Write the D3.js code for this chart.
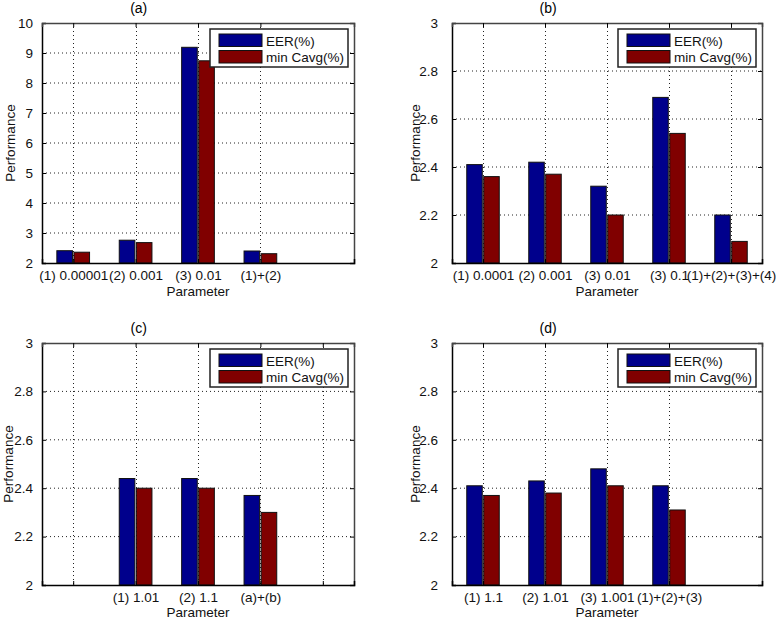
<!DOCTYPE html>
<html><head><meta charset="utf-8">
<script src="https://cdn.jsdelivr.net/npm/d3@7"></script>
<style>body{margin:0;background:#fff}svg{display:block;font-family:"Liberation Sans",Arial,sans-serif}</style>
</head><body><svg id="c" width="776" height="618"></svg>
<script>
// ---- data ----
const seriesNames = ["EER(%)", "min Cavg(%)"];
const seriesColors = ["#00008c", "#800000"];

const aTitle = "(a)";
const aTickLabels = ["(1) 0.00001", "(2) 0.001", "(3) 0.01", "(1)+(2)"];
const aTickPos = [1, 2, 3, 4];
const aBarPos = [1, 2, 3, 4];
const aEER = [2.41, 2.76, 9.19, 2.40];
const aCavg = [2.36, 2.68, 8.74, 2.31];
const aYTicks = [2, 3, 4, 5, 6, 7, 8, 9, 10];

const bTitle = "(b)";
const bTickLabels = ["(1) 0.0001", "(2) 0.001", "(3) 0.01", "(3) 0.1", "(1)+(2)+(3)+(4)"];
const bTickPos = [1, 2, 3, 4, 5];
const bBarPos = [1, 2, 3, 4, 5];
const bEER = [2.41, 2.42, 2.32, 2.69, 2.20];
const bCavg = [2.36, 2.37, 2.20, 2.54, 2.09];
const smallYTicks = [2, 2.2, 2.4, 2.6, 2.8, 3];

const cTitle = "(c)";
const cTickLabels = ["", "(1) 1.01", "(2) 1.1", "(a)+(b)", ""];
const cTickPos = [1, 2, 3, 4, 5];
const cBarPos = [2, 3, 4];
const cEER = [2.44, 2.44, 2.37];
const cCavg = [2.40, 2.40, 2.30];

const dTitle = "(d)";
const dTickLabels = ["(1) 1.1", "(2) 1.01", "(3) 1.001", "(1)+(2)+(3)"];
const dTickPos = [1, 2, 3, 4];
const dBarPos = [1, 2, 3, 4];
const dEER = [2.41, 2.43, 2.48, 2.41];
const dCavg = [2.37, 2.38, 2.41, 2.31];

const xLabel = "Parameter";
const yLabel = "Performance";

// ---- drawing ----
const svg = d3.select("#c");
const FS = 13.5;

function panel(cfg) {
  const {left, right, top, bottom, yDomain, yTicks, yFmt, tickPos, tickLabels, barPos, eer, cavg, title, yTickPad, yLabelOff, xLabOff} = cfg;
  const x = d3.scaleLinear().domain([0.5, 5.5]).range([left, right]);
  const y = d3.scaleLinear().domain(yDomain).range([bottom, top]);
  const g = svg.append("g");

  // grid
  g.append("g").selectAll("line").data(yTicks.slice(1, -1)).join("line")
    .attr("x1", left).attr("x2", right).attr("y1", d => y(d)).attr("y2", d => y(d))
    .attr("stroke", "#222").attr("stroke-width", 1).attr("stroke-dasharray", "1,3");
  g.append("g").selectAll("line").data(tickPos).join("line")
    .attr("x1", d => Math.round(x(d)) + 0.5).attr("x2", d => Math.round(x(d)) + 0.5).attr("y1", top).attr("y2", bottom)
    .attr("stroke", "#222").attr("stroke-width", 1).attr("stroke-dasharray", "1,3");

  // bars
  const bw = 0.25, off = 0.137;
  const rows = [];
  barPos.forEach((p, i) => {
    rows.push({x: p - off, v: eer[i], s: 0});
    rows.push({x: p + off, v: cavg[i], s: 1});
  });
  g.append("g").selectAll("rect").data(rows).join("rect")
    .attr("x", d => x(d.x - bw / 2)).attr("width", x(bw) - x(0))
    .attr("y", d => y(d.v)).attr("height", d => y(yDomain[0]) - y(d.v))
    .attr("fill", d => seriesColors[d.s]).attr("stroke", "#111").attr("stroke-width", 1);

  // axes
  const yAxL = d3.axisLeft(y).tickValues(yTicks).tickSize(-4).tickPadding(yTickPad).tickFormat(yFmt);
  const gy = g.append("g").attr("transform", `translate(${left},0)`).call(yAxL);
  const yAxR = d3.axisRight(y).tickValues(yTicks).tickSize(-4).tickFormat("");
  const gyr = g.append("g").attr("transform", `translate(${right},0)`).call(yAxR);
  const xAxB = d3.axisBottom(x).tickValues(tickPos).tickSize(-4).tickPadding(7).tickFormat((d, i) => tickLabels[i]);
  const gx = g.append("g").attr("transform", `translate(0,${bottom})`).call(xAxB);
  const xAxT = d3.axisTop(x).tickValues(tickPos).tickSize(-4).tickFormat("");
  const gxt = g.append("g").attr("transform", `translate(0,${top})`).call(xAxT);
  [gy, gx].forEach(a => {
    a.select(".domain").attr("stroke", "#000").attr("stroke-width", 1.5);
    a.selectAll(".tick line").attr("stroke", "#000");
    a.selectAll("text").attr("font-size", FS).attr("fill", "#111").attr("font-family", "Liberation Sans, Arial, sans-serif");
  });
  [gyr, gxt].forEach(a => {
    a.select(".domain").attr("stroke", "#444").attr("stroke-width", 1.5);
    a.selectAll(".tick line").attr("stroke", "#000");
  });

  // labels
  g.append("text").attr("x", (left + right) / 2).attr("y", bottom + xLabOff).attr("text-anchor", "middle")
    .attr("font-size", FS).attr("fill", "#111").text(xLabel);
  g.append("text").attr("transform", `translate(${left - yLabelOff},${(top + bottom) / 2}) rotate(-90)`)
    .attr("text-anchor", "middle").attr("dy", "0.35em").attr("font-size", FS).attr("fill", "#111").text(yLabel);
  g.append("text").attr("x", x(2.05)).attr("y", top - 10.5).attr("text-anchor", "middle")
    .attr("font-size", 14).attr("fill", "#000").text(title);

  // legend
  const lx = right - 144, ly = top + 6;
  const lg = g.append("g");
  lg.append("rect").attr("x", lx).attr("y", ly).attr("width", 138).attr("height", 38)
    .attr("fill", "#fff").attr("stroke", "#222").attr("stroke-width", 1.5);
  seriesNames.forEach((n, i) => {
    lg.append("rect").attr("x", lx + 9).attr("y", ly + 5 + i * 16.5).attr("width", 43).attr("height", 12.5)
      .attr("fill", seriesColors[i]).attr("stroke", "#111").attr("stroke-width", 1);
    lg.append("text").attr("x", lx + 56).attr("y", ly + 16.5 + i * 16.5).attr("font-size", FS).attr("fill", "#111").text(n);
  });
}

const fmtInt = d3.format("d");
const fmtSmall = d => (d === 2 || d === 3) ? String(d) : d3.format(".1f")(d);

panel({left: 42, right: 354, top: 23, bottom: 263, yDomain: [2, 10], yTicks: aYTicks, yFmt: fmtInt,
  tickPos: aTickPos, tickLabels: aTickLabels, barPos: aBarPos, eer: aEER, cavg: aCavg, title: aTitle, yTickPad: 9, yLabelOff: 32, xLabOff: 33});
panel({left: 452, right: 762, top: 23, bottom: 263, yDomain: [2, 3], yTicks: smallYTicks, yFmt: fmtSmall,
  tickPos: bTickPos, tickLabels: bTickLabels, barPos: bBarPos, eer: bEER, cavg: bCavg, title: bTitle, yTickPad: 14, yLabelOff: 37, xLabOff: 33});
panel({left: 42, right: 354, top: 343, bottom: 585, yDomain: [2, 3], yTicks: smallYTicks, yFmt: fmtSmall,
  tickPos: cTickPos, tickLabels: cTickLabels, barPos: cBarPos, eer: cEER, cavg: cCavg, title: cTitle, yTickPad: 9, yLabelOff: 34, xLabOff: 31.5});
panel({left: 452, right: 762, top: 343, bottom: 585, yDomain: [2, 3], yTicks: smallYTicks, yFmt: fmtSmall,
  tickPos: dTickPos, tickLabels: dTickLabels, barPos: dBarPos, eer: dEER, cavg: dCavg, title: dTitle, yTickPad: 14, yLabelOff: 37, xLabOff: 31.5});
</script></body></html>
